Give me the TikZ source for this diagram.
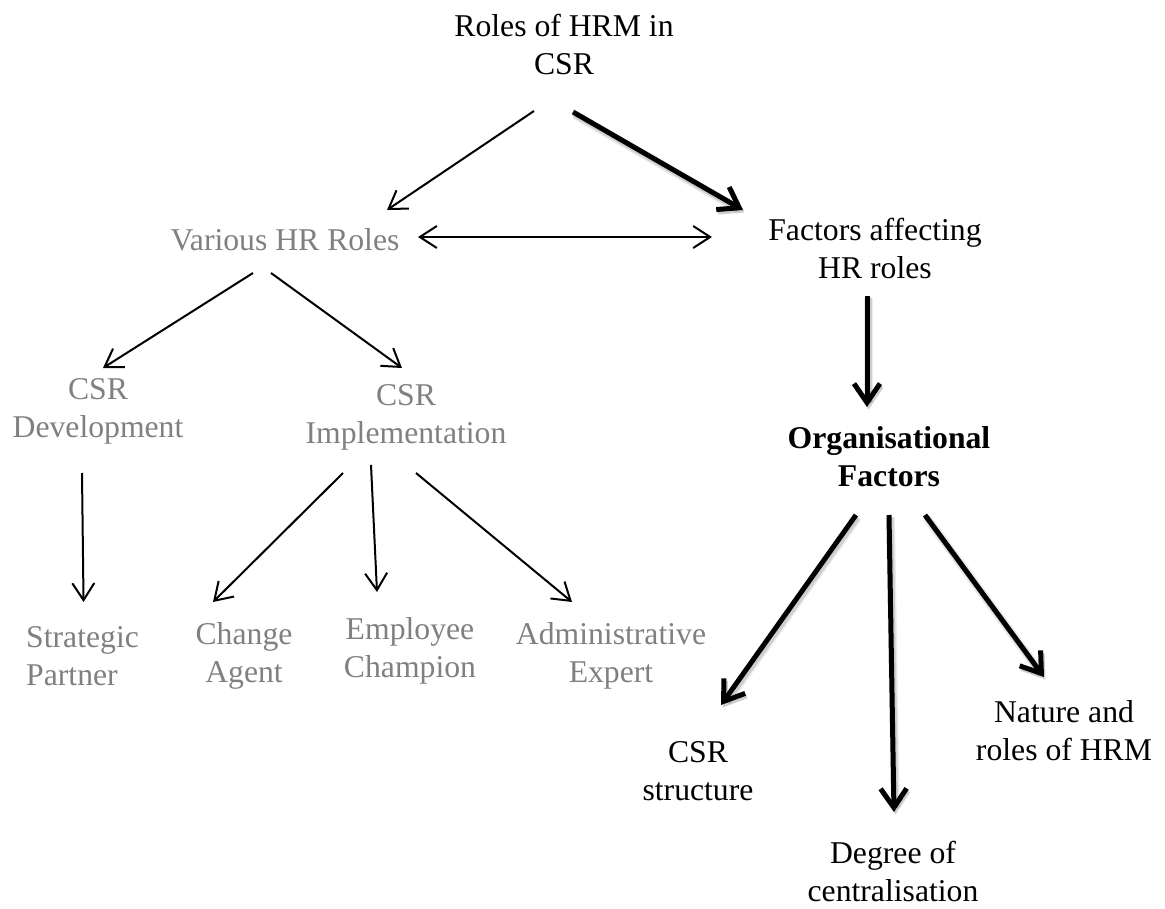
\documentclass[tikz,border=0pt]{standalone}
\usepackage{fontspec}
\setmainfont{Liberation Serif}
\usetikzlibrary{arrows.meta,calc}
\definecolor{rolegray}{RGB}{128,128,128}
\begin{document}
\begin{tikzpicture}[x=1pt,y=-1pt,
  lbl/.style={align=center,inner sep=0pt,font=\fontsize{31.7}{38}\selectfont},
  grey/.style={lbl,text=rolegray},
  thinhead/.tip={Straight Barb[length=17pt,width=22pt,line width=2pt]},
  thickhead/.tip={Straight Barb[length=19pt,width=26pt,line width=5pt]},
  thin/.style={line width=2pt,-thinhead},
  thinboth/.style={line width=2pt,thinhead-thinhead},
  % heavy arrows carry a soft drop shadow
  thick/.style={line width=5pt,-thickhead,
    preaction={draw=black,draw opacity=0.08,line width=9pt,
      transform canvas={shift={(1.5pt,-2.5pt)}}},
    preaction={draw=black,draw opacity=0.12,line width=6pt,
      transform canvas={shift={(1.5pt,-2.5pt)}}}}]
\useasboundingbox (0,0) rectangle (1165,909);

% labels
\node[lbl] (roles) at (564,44) {Roles of HRM in\\CSR};
\node[grey] (various) at (285,240) {Various HR Roles};
\node[lbl] (factors) at (875,248) {Factors affecting\\HR roles};
\node[grey] (csrdev) at (98,411) {CSR\\Development};
\node[grey] (csrimp) at (406,417) {CSR\\Implementation};
\node[lbl,font=\fontsize{31.7}{38}\selectfont\bfseries] (org) at (889,457) {Organisational\\Factors};
\node[grey,align=left,anchor=west] (strategic) at (26,656) {Strategic\\Partner};
\node[grey] (change) at (244,656) {Change\\Agent};
\node[grey] (employee) at (410,651) {Employee\\Champion};
\node[grey] (admin) at (611,656) {Administrative\\Expert};
\node[lbl] (struct) at (698,771) {CSR\\structure};
\node[lbl] (degree) at (893,871) {Degree of\\centralisation};
\node[lbl] (nature) at (1064,731) {Nature and\\roles of HRM};

% connectors
\draw[thin] ($(roles)+(-30,67)$) -- ($(various)+(102,-30)$);
\draw[thick] ($(roles)+(9,68)$) -- ($(factors)+(-132,-38)$);
\draw[thinboth] ($(various)+(133,-3)$) -- ($(factors)+(-163,-11)$);
\draw[thick] ($(factors)+(-8,48)$) -- ($(org)+(-22,-50)$);

\draw[thin] ($(various)+(-32,33)$) -- ($(csrdev)+(5,-43)$);
\draw[thin] ($(various)+(-14,33)$) -- ($(csrimp)+(-4,-49)$);

\draw[thin] ($(csrdev)+(-16,62)$) -- ($(strategic)+(1,-54)$);
\draw[thin] ($(csrimp)+(-63,56)$) -- ($(change)+(-31,-54)$);
\draw[thin] ($(csrimp)+(-35,48)$) -- ($(employee)+(-33,-59)$);
\draw[thin] ($(csrimp)+(10,56)$) -- ($(admin)+(-39,-54)$);

\draw[thick] ($(org)+(-33,58)$) -- ($(struct)+(23,-66)$);
\draw[thick] ($(org)+(0,58)$) -- ($(degree)+(1,-59)$);
\draw[thick] ($(org)+(36,58)$) -- ($(nature)+(-20,-54)$);
\end{tikzpicture}
\end{document}
